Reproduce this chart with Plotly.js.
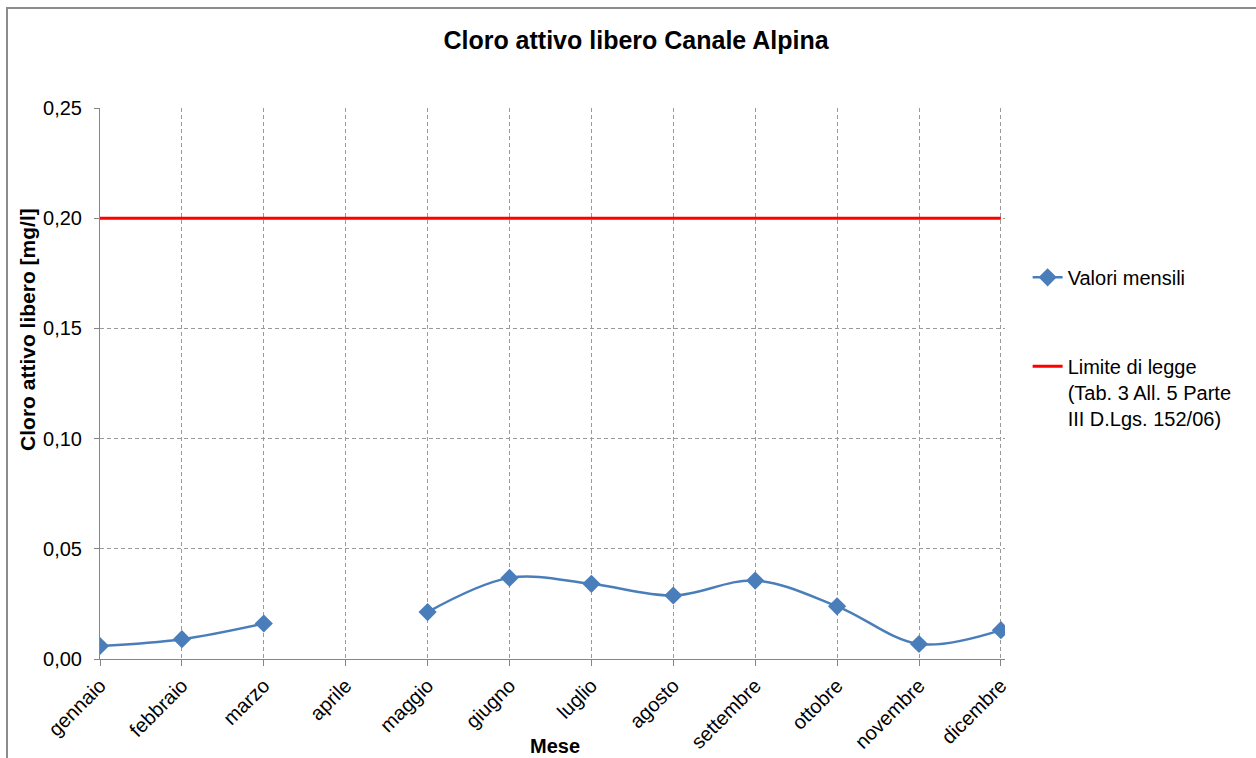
<!DOCTYPE html>
<html>
<head>
<meta charset="utf-8">
<script src="https://cdn.plot.ly/plotly-3.0.1.min.js"></script>
<style>
  html, body { margin: 0; padding: 0; background: #fff; }
  #frame { position: absolute; left: 6px; top: 7px; width: 1300px; height: 800px; border: 2px solid #8c8c8c; box-sizing: border-box; pointer-events: none; z-index: 5; }
  #chart { width: 1256px; height: 758px; }
</style>
</head>
<body>
<div id="frame"></div>
<div id="chart"></div>
<script>
const months = ["gennaio","febbraio","marzo","aprile","maggio","giugno","luglio","agosto","settembre","ottobre","novembre","dicembre"];
const valoriMensili = [0.0059, 0.0090, 0.0161, null, 0.0213, 0.0368, 0.0341, 0.0288, 0.0356, 0.0239, 0.0068, 0.0131];
const limiteLegge = [0.20, 0.20, 0.20, 0.20, 0.20, 0.20, 0.20, 0.20, 0.20, 0.20, 0.20, 0.20];
const yTicks = [0, 0.05, 0.10, 0.15, 0.20, 0.25];

const font = "Liberation Sans, Arial, sans-serif";

const traces = [
  {
    x: months, y: valoriMensili, type: "scatter", mode: "lines+markers",
    name: "Valori mensili", connectgaps: false,
    line: { color: "#4A7EBB", width: 2.5, shape: "spline", smoothing: 1 },
    marker: { symbol: "diamond", size: 14, color: "#4A7EBB" },
    legendgroup: "a"
  },
  {
    x: months, y: limiteLegge, type: "scatter", mode: "lines",
    name: "Limite di legge<br>(Tab. 3 All. 5 Parte<br>III D.Lgs. 152/06)",
    line: { color: "#FF0000", width: 3 },
    legendgroup: "b"
  }
];

const layout = {
  width: 1256, height: 758,
  paper_bgcolor: "#fff", plot_bgcolor: "#fff",
  separators: ",.",
  font: { family: font, color: "#000", size: 18 },
  margin: { l: 100, r: 251, t: 108, b: 99, pad: 0 },
  title: { text: "<b>Cloro attivo libero Canale Alpina</b>", font: { family: font, size: 25, color: "#000" }, x: 0.5064, xref: "container", xanchor: "center", y: 0.947, yref: "container", yanchor: "middle" },
  xaxis: {
    type: "category", range: [0, 11.05],
    showline: true, linecolor: "#868686", linewidth: 1,
    ticks: "outside", ticklen: 6, tickcolor: "#868686",
    showgrid: true, gridcolor: "#9a9a9a", griddash: "4px,3px", gridwidth: 1,
    tickangle: -45, tickfont: { family: font, size: 20, color: "#000" },
    zeroline: false, fixedrange: true
  },
  yaxis: {
    range: [0, 0.25], tickvals: yTicks, tickformat: ".2f",
    showline: true, linecolor: "#868686", linewidth: 1,
    ticks: "outside", ticklen: 5, tickcolor: "#868686", ticklabelstandoff: 8,
    showgrid: true, gridcolor: "#9a9a9a", griddash: "4px,3px", gridwidth: 1,
    tickfont: { family: font, size: 20, color: "#000" },
    zeroline: false, fixedrange: true
  },
  annotations: [
    { text: "<b>Mese</b>", xref: "paper", yref: "paper", x: 0.503, y: -0.158, xanchor: "center", yanchor: "middle", showarrow: false, font: { family: font, size: 20, color: "#000" } },
    { text: "<b>Cloro attivo libero [mg/l]</b>", xref: "paper", yref: "paper", x: -0.0796, y: 0.599, xanchor: "center", yanchor: "middle", textangle: -90, showarrow: false, font: { family: font, size: 21, color: "#000" } }
  ],
  showlegend: true,
  legend: {
    x: 1.025, xanchor: "left", y: 0.728, yanchor: "top", valign: "top",
    font: { family: font, size: 20, color: "#000" },
    tracegroupgap: 60, itemwidth: 30, bgcolor: "rgba(0,0,0,0)"
  }
};

Plotly.newPlot("chart", traces, layout, { displayModeBar: false, staticPlot: true });
</script>
</body>
</html>
